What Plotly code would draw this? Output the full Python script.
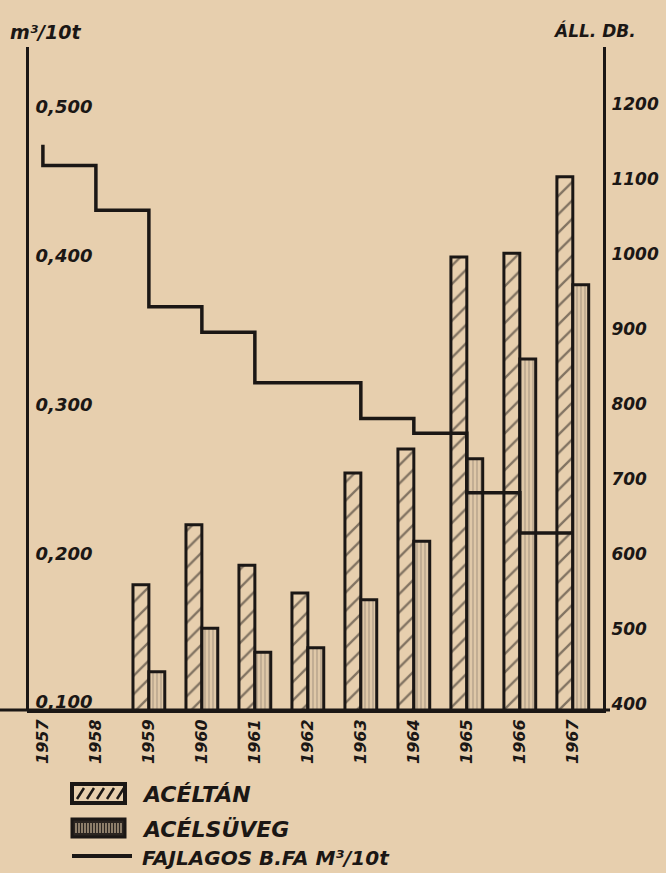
import plotly.graph_objects as go

# ---------------- data ----------------
bar_years = [1959, 1960, 1961, 1962, 1963, 1964, 1965, 1966, 1967]
aceltan = [567, 647, 593, 556, 716, 748, 1004, 1009, 1111]
acelsuveg = [451, 509, 477, 483, 547, 625, 735, 868, 967]

line_years = [1957, 1958, 1959, 1960, 1961, 1962, 1963, 1964, 1965, 1966, 1967]
fajlagos = [0.480, 0.466, 0.436, 0.371, 0.354, 0.320, 0.320, 0.296, 0.286, 0.246, 0.219]

year_ticks = [1957, 1958, 1959, 1960, 1961, 1962, 1963, 1964, 1965, 1966, 1967]
year_labels = ["1957", "1958", "1959", "1960", "1961", "1962", "1963", "1964", "1965", "1966", "1967"]

left_ticks = [0.1, 0.2, 0.3, 0.4, 0.5]
left_labels = ["0,100", "0,200", "0,300", "0,400", "0,500"]
right_ticks = [400, 500, 600, 700, 800, 900, 1000, 1100, 1200]
right_labels = ["400", "500", "600", "700", "800", "900", "1000", "1100", "1200"]

# ---------------- style ----------------
PAPER = "#e7cfae"
INK = "#1b1715"
FONT = dict(family="DejaVu Sans", color=INK, weight="bold", style="italic")

W, H = 666, 873
L, R, T, B = 27, 603, 47, 710


def px(x):
    return (x - L) / (R - L)


def py(y):
    return (B - y) / (B - T)


def f(size):
    d = dict(FONT)
    d["size"] = size
    return d


fig = go.Figure()

fig.add_trace(go.Bar(
    x=bar_years, y=aceltan, name="ACÉLTÁN", yaxis="y",
    marker=dict(color=PAPER, line=dict(color=INK, width=3),
                pattern=dict(shape="/", fgcolor=INK, bgcolor=PAPER, size=13, solidity=0.18)),
    showlegend=False,
))
fig.add_trace(go.Bar(
    x=bar_years, y=acelsuveg, name="ACÉLSÜVEG", yaxis="y",
    marker=dict(color="#dcc5a5", line=dict(color=INK, width=3),
                pattern=dict(shape="|", fgcolor="#8c7d6d", bgcolor="#dfc8a8", size=4, solidity=0.35)),
    showlegend=False,
))
fig.add_trace(go.Scatter(
    x=line_years, y=fajlagos, name="FAJLAGOS B.FA M³/10t", yaxis="y2",
    mode="lines", line=dict(color=INK, width=3.5, shape="vh"),
    showlegend=False,
))

shapes = []
# baseline extension
shapes.append(dict(type="line", xref="paper", yref="paper", x0=px(0), x1=px(610), y0=0, y1=0,
                   line=dict(color=INK, width=3), layer="above"))
# legend swatch 1 (diagonal hatch)
shapes.append(dict(type="rect", xref="paper", yref="paper", x0=px(72), x1=px(125), y0=py(803), y1=py(784),
                   line=dict(color=INK, width=4), fillcolor=PAPER))
diag = ""
for k in range(5):
    x0 = 77 + k * 10
    diag += f"M{px(x0)},{py(799)} L{px(x0 + 7)},{py(788)} "
shapes.append(dict(type="path", xref="paper", yref="paper", path=diag, line=dict(color=INK, width=2.5)))
# legend swatch 2 (vertical hatch)
shapes.append(dict(type="rect", xref="paper", yref="paper", x0=px(72), x1=px(125), y0=py(837), y1=py(819),
                   line=dict(color=INK, width=3), fillcolor="#2b2521"))
vert = ""
for k in range(16):
    x0 = 76 + k * 3
    vert += f"M{px(x0)},{py(833)} L{px(x0)},{py(823)} "
shapes.append(dict(type="path", xref="paper", yref="paper", path=vert, line=dict(color="#cdb99b", width=1.2)))
# legend line
shapes.append(dict(type="line", xref="paper", yref="paper", x0=px(72), x1=px(132), y0=py(856), y1=py(856),
                   line=dict(color=INK, width=4)))

annotations = [
    dict(text="ACÉLTÁN", x=px(140), y=py(794), xref="paper", yref="paper", xanchor="left", yanchor="middle",
         showarrow=False, font=f(22)),
    dict(text="ACÉLSÜVEG", x=px(140), y=py(829), xref="paper", yref="paper", xanchor="left", yanchor="middle",
         showarrow=False, font=f(22)),
    dict(text="FAJLAGOS B.FA M³/10t", x=px(140), y=py(858), xref="paper", yref="paper", xanchor="left",
         yanchor="middle", showarrow=False, font=f(20)),
    dict(text="m³/10t", x=px(8), y=py(32), xref="paper", yref="paper", xanchor="left", yanchor="middle",
         showarrow=False, font=f(19)),
    dict(text="ÁLL. DB.", x=px(551), y=py(30), xref="paper", yref="paper", xanchor="left", yanchor="middle",
         showarrow=False, font=f(17)),
]

fig.update_layout(
    width=W, height=H,
    margin=dict(l=L, r=W - R, t=T, b=H - B, pad=0),
    paper_bgcolor=PAPER, plot_bgcolor=PAPER,
    barmode="group", bargap=0.4, bargroupgap=0,
    showlegend=False,
    xaxis=dict(range=[1956.70, 1967.57], tickmode="array", tickvals=year_ticks, ticktext=year_labels,
               tickangle=-90, tickfont=f(16), showgrid=False, zeroline=False, showline=True,
               linecolor=INK, linewidth=3, ticks="", ticklabelstandoff=0, automargin=False),
    yaxis=dict(range=[400, 1284], side="right", tickmode="array", tickvals=right_ticks, ticktext=right_labels,
               tickfont=f(17), showgrid=False, zeroline=False, showline=True, linecolor=INK, linewidth=3,
               ticks="", ticklabelstandoff=2, ticklabelshift=-6, automargin=False),
    yaxis2=dict(range=[0.1, 0.5457], side="right", overlaying="y", anchor="free", position=0,
                tickmode="array", tickvals=left_ticks,
                ticktext=left_labels, tickfont=f(18), showgrid=False, zeroline=False, showline=True,
                linecolor=INK, linewidth=3, ticks="", ticklabelstandoff=3,
                ticklabelshift=-8, automargin=False),
    shapes=shapes,
    annotations=annotations,
)

fig.write_html("out.html", config={"displayModeBar": False},
               post_script="document.body.style.margin='0';document.body.style.padding='0';")
